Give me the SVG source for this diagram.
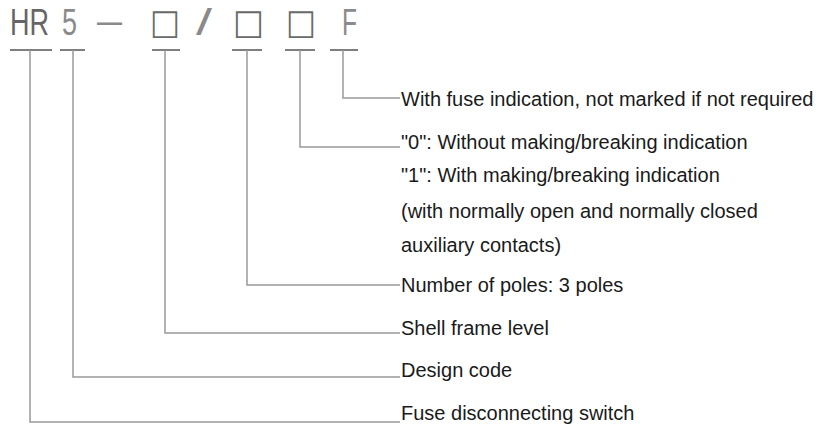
<svg xmlns="http://www.w3.org/2000/svg" width="820" height="426" viewBox="0 0 820 426">
<style>
.hdr{font-family:"Liberation Sans",Arial,sans-serif;font-size:37px;fill:#8a8a8a}
.sq{font-family:"DejaVu Sans",sans-serif;font-size:35px;fill:#6a6a6a}
.lbl{font-family:"Liberation Sans",Arial,sans-serif;font-size:20px;fill:#1a1a1a}
.tick{stroke:#555;stroke-width:1.5;fill:none}
.con{stroke:#999;stroke-width:1.5;fill:none}
</style>
<rect width="820" height="426" fill="#fff"/>
<g id="header">
<text class="hdr" x="10" y="35" textLength="39" lengthAdjust="spacingAndGlyphs" style="fill:#666">HR</text>
<text class="hdr" x="62" y="35" textLength="15" lengthAdjust="spacingAndGlyphs">5</text>
<text class="hdr" x="97" y="33" textLength="25" lengthAdjust="spacingAndGlyphs">—</text>
<text class="sq" x="150" y="34" textLength="30" lengthAdjust="spacingAndGlyphs">□</text>
<text class="hdr" x="196" y="35" textLength="16" lengthAdjust="spacingAndGlyphs">/</text>
<text class="sq" x="233" y="34" textLength="31" lengthAdjust="spacingAndGlyphs">□</text>
<text class="sq" x="286" y="34" textLength="30" lengthAdjust="spacingAndGlyphs">□</text>
<text class="hdr" x="342" y="35" textLength="15" lengthAdjust="spacingAndGlyphs">F</text>
</g>
<g id="ticks">
<line class="tick" x1="10" y1="50" x2="52" y2="50"/>
<line class="tick" x1="60" y1="50" x2="85" y2="50"/>
<line class="tick" x1="152" y1="50" x2="180" y2="50"/>
<line class="tick" x1="232" y1="50" x2="262" y2="50"/>
<line class="tick" x1="285" y1="50" x2="315" y2="50"/>
<line class="tick" x1="330" y1="50" x2="358" y2="50"/>
</g>
<g id="connectors">
<polyline class="con" points="343,50 343,98 400,98"/>
<polyline class="con" points="300,50 300,147 400,147"/>
<polyline class="con" points="247,50 247,285 400,285"/>
<polyline class="con" points="165,50 165,333 400,333"/>
<polyline class="con" points="73,50 73,377 400,377"/>
<polyline class="con" points="30,50 30,422 400,422"/>
</g>
<g id="n-fuse-indication"><text class="lbl" x="401" y="106">With fuse indication, not marked if not required</text></g>
<g id="n-making-breaking">
<text class="lbl" x="401" y="149">"0": Without making/breaking indication</text>
<text class="lbl" x="401" y="182">"1": With making/breaking indication</text>
<text class="lbl" x="401" y="218">(with normally open and normally closed</text>
<text class="lbl" x="401" y="252">auxiliary contacts)</text>
</g>
<g id="n-poles"><text class="lbl" x="401" y="292">Number of poles: 3 poles</text></g>
<g id="n-shell"><text class="lbl" x="401" y="335">Shell frame level</text></g>
<g id="n-design"><text class="lbl" x="401" y="377">Design code</text></g>
<g id="n-switch"><text class="lbl" x="401" y="420">Fuse disconnecting switch</text></g>
</svg>
